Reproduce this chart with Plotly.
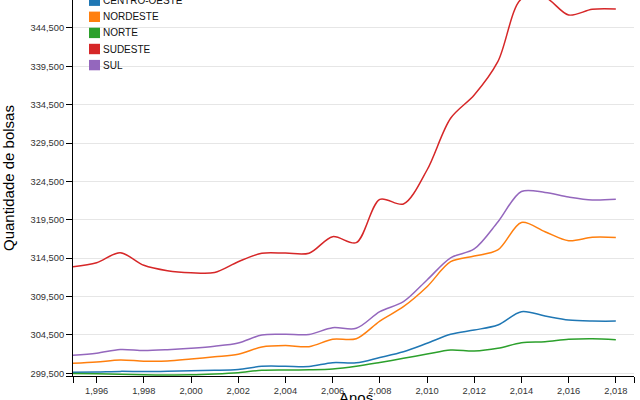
import plotly.graph_objects as go

years = list(range(1995, 2019))

centro_oeste = [299630, 299670, 299750, 299720, 299760, 299840, 299890, 300000, 300410, 300420,
                300390, 300880, 300860, 301560, 302310, 303410, 304580, 305140, 305790, 307530,
                306970, 306450, 306310, 306300]
nordeste = [300800, 300970, 301230, 301080, 301100, 301360, 301660, 301980, 302930, 303120,
            302970, 303930, 304010, 306310, 308180, 310780, 314040, 314780, 315570, 319150,
            317950, 316780, 317220, 317200]
norte = [299490, 299430, 299360, 299300, 299280, 299300, 299410, 299580, 299890, 299930,
         299960, 300060, 300410, 300910, 301450, 302010, 302540, 302410, 302760, 303490,
         303620, 303930, 304010, 303880]
sudeste = [313390, 313910, 315210, 313570, 312870, 312610, 312640, 314040, 315140, 315160,
           315150, 317300, 316520, 322170, 321560, 325990, 332730, 335760, 340100, 348280,
           348480, 346190, 346930, 346970]
sul = [301850, 302110, 302600, 302470, 302580, 302770, 303030, 303450, 304490, 304580,
       304560, 305440, 305360, 307530, 308830, 311660, 314550, 315700, 319210, 323190,
       323060, 322470, 322080, 322170]

series_names = ["CENTRO-OESTE", "NORDESTE", "NORTE", "SUDESTE", "SUL"]
series_values = [centro_oeste, nordeste, norte, sudeste, sul]
colors = ["#1f77b4", "#ff7f0e", "#2ca02c", "#d62728", "#9467bd"]

y_min, y_max = 299148, 348141
x_min, x_max = 1995, 2018.77
x_tick_vals = [x_min] + list(range(1996, 2019, 2)) + [x_max]
x_tick_text = [""] + [f"{v:,}" for v in range(1996, 2019, 2)] + [""]
y_tick_vals = [y_min] + list(range(299500, 345000, 5000))
y_tick_text = [""] + [f"{v:,}" for v in range(299500, 345000, 5000)]

W, H = 640, 400
ML, MR, MT, MB = 73, 6, 0, 24
PW, PH = W - ML - MR, H - MT - MB


def px_x(px):
    return (px - ML) / PW


def px_y(py):
    return (H - MB - py) / PH


fig = go.Figure()
for name, vals, c in zip(series_names, series_values, colors):
    fig.add_trace(go.Scatter(x=years, y=vals, mode="lines", name=name,
                             line=dict(color=c, width=1.5, shape="spline", smoothing=0.9),
                             showlegend=False))

font_fam = "Liberation Sans, Arial, sans-serif"
shapes = []
annotations = []
leg_y0 = 0.7
for i, (name, c) in enumerate(zip(series_names, colors)):
    cy = leg_y0 + i * 16.1
    shapes.append(dict(type="rect", xref="paper", yref="paper",
                       x0=px_x(89), x1=px_x(100), y0=px_y(cy + 5.2), y1=px_y(cy - 5.2),
                       fillcolor=c, line=dict(width=0)))
    annotations.append(dict(text=name, xref="paper", yref="paper", x=px_x(101), y=px_y(cy),
                            xanchor="left", yanchor="middle", showarrow=False,
                            font=dict(family=font_fam, size=10, color="#111")))

annotations.append(dict(text="Quantidade de bolsas", xref="paper", yref="paper",
                        x=px_x(8), y=px_y(178), textangle=-90, xanchor="center",
                        yanchor="middle", showarrow=False,
                        font=dict(family=font_fam, size=15, color="#000")))
annotations.append(dict(text="Anos", xref="paper", yref="paper",
                        x=px_x(356), y=px_y(387), xanchor="center", yanchor="top",
                        showarrow=False, font=dict(family=font_fam, size=15, color="#000")))

axis_common = dict(showline=True, linecolor="black", linewidth=1, ticks="outside",
                   ticklen=6, tickcolor="black", tickwidth=1, zeroline=False,
                   tickfont=dict(family=font_fam, size=9.3, color="#333"))

fig.update_layout(
    width=W, height=H,
    margin=dict(l=ML, r=MR, t=MT, b=MB),
    paper_bgcolor="white", plot_bgcolor="white",
    xaxis=dict(range=[x_min, x_max], tickvals=x_tick_vals, ticktext=x_tick_text,
               showgrid=False, **axis_common),
    yaxis=dict(range=[y_min, y_max], tickvals=y_tick_vals, ticktext=y_tick_text,
               showgrid=True, gridcolor="#e6e6e6", gridwidth=1, **axis_common),
    shapes=shapes, annotations=annotations,
    showlegend=False,
)

fig.write_html("out.html", config={"displayModeBar": False},
               post_script="document.body.style.margin='0';document.body.style.overflow='hidden';")
